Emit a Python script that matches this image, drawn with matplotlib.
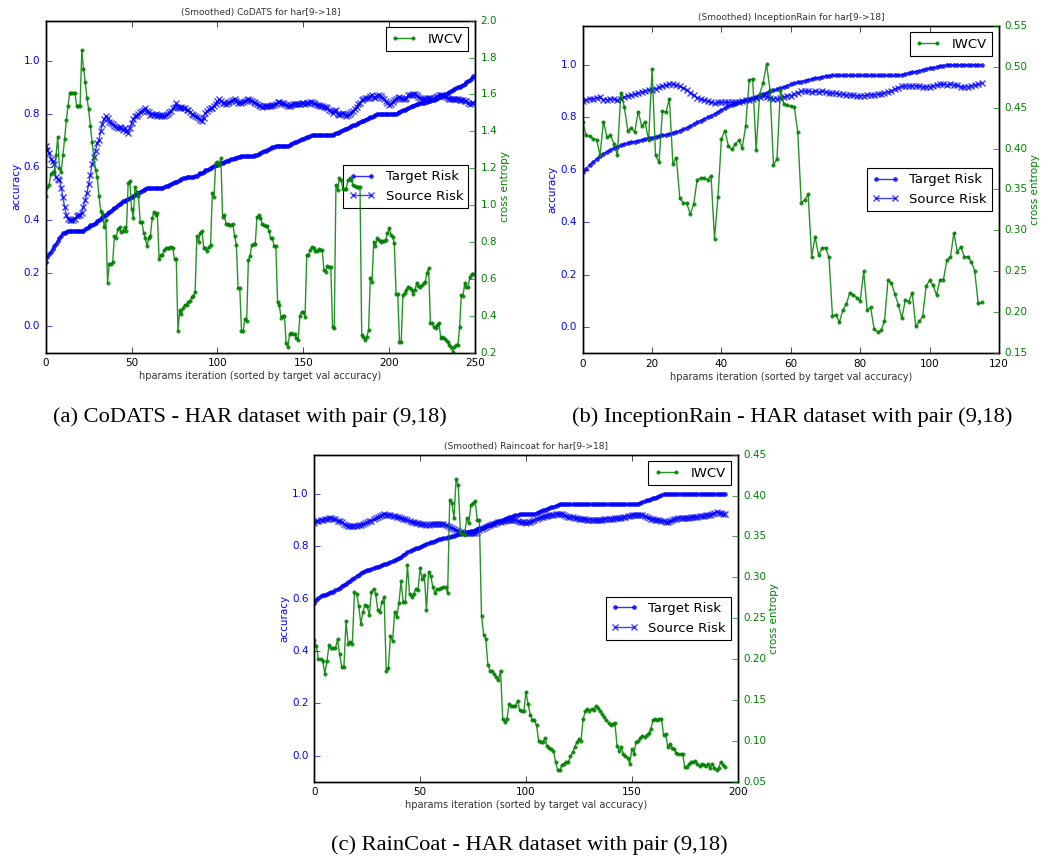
import numpy as np
import matplotlib
matplotlib.use('Agg')
import matplotlib.pyplot as plt

plt.style.use('classic')

# ---- (a) CoDATS: values ----
codats_target = [
    0.24, 0.26, 0.27, 0.28, 0.29, 0.30, 0.31, 0.32, 0.33, 0.34,
    0.35, 0.35, 0.355, 0.36, 0.36, 0.36, 0.36, 0.36, 0.36, 0.36,
    0.36, 0.36, 0.36, 0.365, 0.37, 0.375, 0.38, 0.38, 0.385, 0.39,
    0.395, 0.40, 0.405, 0.41, 0.415, 0.42, 0.425, 0.43, 0.435, 0.44,
    0.445, 0.45, 0.455, 0.46, 0.465, 0.47, 0.473, 0.476, 0.48, 0.483,
    0.487, 0.49, 0.495, 0.50, 0.503, 0.506, 0.51, 0.513, 0.516, 0.519,
    0.52, 0.52, 0.52, 0.52, 0.52, 0.52, 0.52, 0.52, 0.52, 0.523,
    0.526, 0.529, 0.532, 0.535, 0.538, 0.541, 0.544, 0.547, 0.55, 0.553,
    0.556, 0.558, 0.56, 0.56, 0.56, 0.56, 0.56, 0.564, 0.567, 0.571,
    0.575, 0.578, 0.582, 0.586, 0.589, 0.593, 0.596, 0.60, 0.603, 0.605,
    0.608, 0.61, 0.613, 0.615, 0.618, 0.62, 0.623, 0.625, 0.628, 0.63,
    0.632, 0.634, 0.636, 0.638, 0.64, 0.64, 0.64, 0.64, 0.64, 0.64,
    0.64, 0.64, 0.643, 0.646, 0.649, 0.652, 0.655, 0.658, 0.661, 0.664,
    0.667, 0.67, 0.673, 0.676, 0.678, 0.68, 0.68, 0.68, 0.68, 0.68,
    0.68, 0.68, 0.683, 0.686, 0.689, 0.692, 0.695, 0.698, 0.70, 0.703,
    0.706, 0.709, 0.712, 0.714, 0.716, 0.718, 0.72, 0.72, 0.72, 0.72,
    0.72, 0.72, 0.72, 0.72, 0.72, 0.72, 0.72, 0.72, 0.723, 0.726,
    0.729, 0.732, 0.735, 0.738, 0.741, 0.744, 0.747, 0.75, 0.753, 0.756,
    0.759, 0.762, 0.765, 0.768, 0.771, 0.774, 0.777, 0.78, 0.783, 0.786,
    0.789, 0.792, 0.795, 0.797, 0.799, 0.80, 0.80, 0.80, 0.80, 0.80,
    0.80, 0.80, 0.80, 0.80, 0.80, 0.803, 0.806, 0.809, 0.812, 0.815,
    0.818, 0.821, 0.824, 0.827, 0.83, 0.833, 0.836, 0.838, 0.84, 0.841,
    0.842, 0.844, 0.845, 0.846, 0.848, 0.85, 0.852, 0.855, 0.858, 0.861,
    0.864, 0.867, 0.87, 0.873, 0.877, 0.881, 0.885, 0.889, 0.893, 0.896,
    0.899, 0.902, 0.905, 0.909, 0.913, 0.918, 0.923, 0.928, 0.934, 0.94,
]
codats_source = [
    0.68, 0.665, 0.65, 0.63, 0.62, 0.61, 0.56, 0.555, 0.55, 0.52,
    0.485, 0.45, 0.42, 0.405, 0.40, 0.40, 0.40, 0.405, 0.415, 0.42,
    0.42, 0.425, 0.45, 0.475, 0.50, 0.535, 0.57, 0.61, 0.635, 0.66,
    0.69, 0.70, 0.735, 0.76, 0.78, 0.79, 0.785, 0.77, 0.765, 0.76,
    0.755, 0.75, 0.745, 0.75, 0.745, 0.74, 0.745, 0.735, 0.728, 0.745,
    0.765, 0.78, 0.79, 0.79, 0.80, 0.805, 0.81, 0.815, 0.82, 0.81,
    0.805, 0.795, 0.80, 0.795, 0.80, 0.79, 0.795, 0.79, 0.795, 0.79,
    0.795, 0.80, 0.805, 0.81, 0.82, 0.825, 0.84, 0.825, 0.82, 0.825,
    0.82, 0.823, 0.815, 0.813, 0.805, 0.797, 0.795, 0.79, 0.788, 0.785,
    0.778, 0.772, 0.785, 0.804, 0.81, 0.816, 0.82, 0.823, 0.83, 0.838,
    0.846, 0.854, 0.848, 0.841, 0.84, 0.838, 0.84, 0.845, 0.848, 0.85,
    0.854, 0.848, 0.841, 0.843, 0.841, 0.845, 0.848, 0.852, 0.857, 0.852,
    0.848, 0.845, 0.841, 0.836, 0.832, 0.828, 0.825, 0.827, 0.828, 0.828,
    0.828, 0.83, 0.832, 0.832, 0.838, 0.843, 0.845, 0.842, 0.84, 0.835,
    0.832, 0.828, 0.83, 0.832, 0.835, 0.838, 0.837, 0.835, 0.838, 0.841,
    0.84, 0.838, 0.84, 0.841, 0.843, 0.845, 0.84, 0.835, 0.834, 0.832,
    0.83, 0.828, 0.826, 0.825, 0.822, 0.815, 0.81, 0.804, 0.81, 0.813,
    0.80, 0.795, 0.80, 0.804, 0.797, 0.791, 0.795, 0.797, 0.805, 0.81,
    0.818, 0.825, 0.835, 0.841, 0.85, 0.854, 0.86, 0.858, 0.86, 0.865,
    0.869, 0.862, 0.86, 0.868, 0.872, 0.866, 0.86, 0.855, 0.848, 0.84,
    0.832, 0.838, 0.845, 0.85, 0.857, 0.86, 0.862, 0.858, 0.854, 0.857,
    0.86, 0.869, 0.87, 0.872, 0.874, 0.875, 0.87, 0.862, 0.858, 0.854,
    0.855, 0.857, 0.86, 0.86, 0.858, 0.856, 0.858, 0.862, 0.866, 0.869,
    0.87, 0.872, 0.866, 0.862, 0.86, 0.857, 0.857, 0.856, 0.855, 0.854,
    0.854, 0.852, 0.85, 0.85, 0.849, 0.848, 0.84, 0.836, 0.84, 0.841,
]
codats_iwcv = [
    1.05, 1.10, 1.11, 1.17, 1.18, 1.18, 1.27, 1.37, 1.20, 1.18,
    1.27, 1.36, 1.46, 1.54, 1.61, 1.61, 1.61, 1.61, 1.54, 1.54,
    1.54, 1.84, 1.74, 1.67, 1.58, 1.52, 1.43, 1.34, 1.26, 1.19,
    1.15, 1.05, 0.97, 0.96, 0.88, 0.92, 0.58, 0.68, 0.68, 0.69,
    0.83, 0.82, 0.87, 0.88, 0.855, 0.86, 0.88, 0.86, 1.12, 1.13,
    0.98, 0.93, 1.10, 1.07, 1.05, 0.91, 0.91, 0.85, 0.82, 0.78,
    0.82, 0.835, 0.93, 0.965, 0.945, 0.955, 0.71, 0.73, 0.73, 0.755,
    0.765, 0.765, 0.77, 0.775, 0.765, 0.71, 0.71, 0.32, 0.43, 0.41,
    0.44, 0.46, 0.46, 0.475, 0.48, 0.50, 0.51, 0.53, 0.83, 0.80,
    0.85, 0.86, 0.77, 0.765, 0.75, 0.775, 0.785, 1.065, 1.045, 1.23,
    1.235, 1.22, 1.255, 0.935, 0.945, 0.90, 0.895, 0.89, 0.89, 0.895,
    0.83, 0.785, 0.55, 0.55, 0.315, 0.32, 0.385, 0.37, 0.70, 0.725,
    0.785, 0.79, 0.79, 0.935, 0.945, 0.93, 0.90, 0.89, 0.885, 0.885,
    0.86, 0.82, 0.82, 0.78, 0.78, 0.475, 0.46, 0.39, 0.40, 0.40,
    0.25, 0.23, 0.30, 0.305, 0.30, 0.30, 0.28, 0.27, 0.40, 0.42,
    0.42, 0.395, 0.73, 0.73, 0.757, 0.775, 0.77, 0.75, 0.75, 0.76,
    0.757, 0.757, 0.648, 0.64, 0.67, 0.667, 0.667, 0.34, 0.332, 1.11,
    1.08, 1.145, 1.136, 1.09, 1.085, 1.09, 1.136, 1.145, 1.136, 1.11,
    1.105, 1.10, 1.10, 1.10, 0.296, 0.287, 0.27, 0.287, 0.323, 0.603,
    0.585, 0.80, 0.78, 0.82, 0.81, 0.80, 0.806, 0.806, 0.813, 0.847,
    0.874, 0.838, 0.829, 0.793, 0.52, 0.516, 0.26, 0.26, 0.513, 0.525,
    0.54, 0.558, 0.549, 0.54, 0.52, 0.54, 0.58, 0.562, 0.558, 0.567,
    0.576, 0.585, 0.634, 0.657, 0.363, 0.363, 0.34, 0.332, 0.35, 0.363,
    0.278, 0.283, 0.278, 0.27, 0.26, 0.24, 0.23, 0.205, 0.23, 0.24,
    0.24, 0.337, 0.513, 0.51, 0.576, 0.555, 0.558, 0.612, 0.626, 0.626,
]

# ---- (b) InceptionRain ----
incep_target = [
    0.59, 0.605, 0.618, 0.63, 0.642, 0.652, 0.661, 0.669, 0.676, 0.682,
    0.688, 0.693, 0.698, 0.702, 0.705, 0.708, 0.711, 0.714, 0.717, 0.72,
    0.722, 0.725, 0.728, 0.731, 0.734, 0.737, 0.74, 0.745, 0.75, 0.755,
    0.76, 0.767, 0.774, 0.781, 0.788, 0.794, 0.80, 0.806, 0.813, 0.82,
    0.828, 0.836, 0.842, 0.847, 0.852, 0.857, 0.861, 0.865, 0.869, 0.874,
    0.879, 0.884, 0.889, 0.894, 0.899, 0.903, 0.907, 0.911, 0.916, 0.921,
    0.926, 0.93, 0.934, 0.937, 0.94, 0.943, 0.946, 0.949, 0.952, 0.954,
    0.957, 0.959, 0.96, 0.96, 0.96, 0.96, 0.96, 0.96, 0.96, 0.96,
    0.96, 0.96, 0.96, 0.96, 0.96, 0.96, 0.96, 0.96, 0.96, 0.96,
    0.96, 0.96, 0.963, 0.966, 0.969, 0.972, 0.975, 0.978, 0.981, 0.984,
    0.987, 0.99, 0.993, 0.996, 0.998, 1.0, 1.0, 1.0, 1.0, 1.0,
    1.0, 1.0, 1.0, 1.0, 1.0, 1.0,
]
incep_source = [
    0.862, 0.866, 0.872, 0.87, 0.875, 0.876, 0.868, 0.868, 0.87, 0.87,
    0.866, 0.872, 0.878, 0.882, 0.884, 0.888, 0.893, 0.896, 0.90, 0.904,
    0.906, 0.91, 0.915, 0.918, 0.922, 0.926, 0.927, 0.924, 0.918, 0.912,
    0.906, 0.895, 0.884, 0.875, 0.87, 0.866, 0.862, 0.858, 0.855, 0.857,
    0.857, 0.858, 0.857, 0.858, 0.859, 0.86, 0.862, 0.865, 0.867, 0.87,
    0.874, 0.878, 0.882, 0.879, 0.874, 0.872, 0.872, 0.874, 0.879, 0.882,
    0.883, 0.89, 0.895, 0.90, 0.90, 0.899, 0.898, 0.899, 0.898, 0.899,
    0.897, 0.894, 0.892, 0.892, 0.89, 0.888, 0.886, 0.885, 0.884, 0.882,
    0.882, 0.883, 0.885, 0.886, 0.887, 0.888, 0.89, 0.894, 0.897, 0.902,
    0.908, 0.914, 0.918, 0.92, 0.92, 0.921, 0.92, 0.918, 0.917, 0.916,
    0.917, 0.92, 0.924, 0.926, 0.926, 0.925, 0.926, 0.925, 0.922, 0.917,
    0.916, 0.917, 0.92, 0.923, 0.926, 0.93,
]
incep_iwcv = [
    0.433, 0.416, 0.415, 0.412, 0.411, 0.392, 0.433, 0.414, 0.416, 0.406,
    0.392, 0.468, 0.451, 0.422, 0.425, 0.42, 0.445, 0.428, 0.432, 0.41,
    0.497, 0.392, 0.383, 0.446, 0.444, 0.461, 0.381, 0.389, 0.339, 0.334,
    0.333, 0.32, 0.332, 0.362, 0.364, 0.364, 0.362, 0.367, 0.29, 0.341,
    0.412, 0.422, 0.403, 0.399, 0.405, 0.41, 0.401, 0.428, 0.484, 0.485,
    0.398, 0.466, 0.48, 0.503, 0.472, 0.38, 0.387, 0.472, 0.454, 0.453,
    0.452, 0.451, 0.42, 0.334, 0.337, 0.344, 0.268, 0.292, 0.27, 0.278,
    0.279, 0.267, 0.196, 0.197, 0.188, 0.203, 0.21, 0.224, 0.221, 0.218,
    0.214, 0.25, 0.203, 0.206, 0.18, 0.176, 0.178, 0.189, 0.239, 0.236,
    0.222, 0.209, 0.193, 0.215, 0.213, 0.224, 0.183, 0.189, 0.195, 0.232,
    0.239, 0.233, 0.221, 0.24, 0.24, 0.264, 0.267, 0.297, 0.274, 0.28,
    0.268, 0.268, 0.262, 0.251, 0.211, 0.212,
]

# ---- (c) RainCoat ----
rain_target = [
    0.582, 0.595, 0.602, 0.608, 0.612, 0.615, 0.618, 0.621, 0.624, 0.627,
    0.631, 0.636, 0.641, 0.647, 0.652, 0.657, 0.662, 0.668, 0.674, 0.68,
    0.686, 0.692, 0.697, 0.701, 0.705, 0.708, 0.711, 0.714, 0.717, 0.72,
    0.722, 0.725, 0.728, 0.731, 0.734, 0.737, 0.74, 0.743, 0.746, 0.75,
    0.754, 0.759, 0.765, 0.771, 0.777, 0.782, 0.786, 0.789, 0.792, 0.795,
    0.798, 0.802, 0.806, 0.81, 0.813, 0.815, 0.818, 0.821, 0.824, 0.827,
    0.829, 0.831, 0.833, 0.835, 0.837, 0.839, 0.841, 0.843, 0.845, 0.847,
    0.849, 0.851, 0.853, 0.855, 0.857, 0.859, 0.862, 0.865, 0.868, 0.871,
    0.874, 0.877, 0.88, 0.883, 0.886, 0.889, 0.892, 0.895, 0.898, 0.901,
    0.904, 0.907, 0.91, 0.913, 0.916, 0.919, 0.921, 0.922, 0.922, 0.922,
    0.922, 0.922, 0.922, 0.922, 0.925, 0.928, 0.931, 0.934, 0.937, 0.94,
    0.943, 0.946, 0.949, 0.952, 0.955, 0.958, 0.96, 0.96, 0.96, 0.96,
    0.96, 0.96, 0.96, 0.96, 0.96, 0.96, 0.96, 0.96, 0.96, 0.96,
    0.96, 0.96, 0.96, 0.96, 0.96, 0.96, 0.96, 0.96, 0.96, 0.96,
    0.96, 0.96, 0.96, 0.96, 0.96, 0.96, 0.96, 0.96, 0.96, 0.96,
    0.96, 0.96, 0.96, 0.963, 0.966, 0.969, 0.972, 0.975, 0.978, 0.981,
    0.984, 0.986, 0.989, 0.992, 0.995, 0.998, 1.0, 1.0, 1.0, 1.0,
    1.0, 1.0, 1.0, 1.0, 1.0, 1.0, 1.0, 1.0, 1.0, 1.0,
    1.0, 1.0, 1.0, 1.0, 1.0, 1.0, 1.0, 1.0, 1.0, 1.0,
    1.0, 1.0, 1.0, 1.0, 1.0,
]
rain_source = [
    0.89, 0.895, 0.898, 0.90, 0.90, 0.905, 0.904, 0.907, 0.908, 0.905,
    0.903, 0.898, 0.895, 0.893, 0.885, 0.88, 0.878, 0.877, 0.877, 0.878,
    0.878, 0.88, 0.883, 0.885, 0.888, 0.892, 0.895, 0.898, 0.903, 0.908,
    0.912, 0.917, 0.921, 0.922, 0.921, 0.92, 0.918, 0.917, 0.915, 0.912,
    0.91, 0.908, 0.906, 0.903, 0.90, 0.897, 0.894, 0.891, 0.889, 0.888,
    0.887, 0.886, 0.885, 0.883, 0.883, 0.884, 0.886, 0.887, 0.887, 0.886,
    0.887, 0.884, 0.88, 0.877, 0.872, 0.868, 0.865, 0.862, 0.858, 0.855,
    0.853, 0.851, 0.85, 0.849, 0.849, 0.849, 0.851, 0.856, 0.862, 0.866,
    0.87, 0.874, 0.878, 0.881, 0.884, 0.887, 0.889, 0.891, 0.893, 0.895,
    0.897, 0.90, 0.90, 0.90, 0.90, 0.90, 0.897, 0.893, 0.892, 0.891,
    0.89, 0.891, 0.892, 0.896, 0.90, 0.905, 0.908, 0.91, 0.912, 0.914,
    0.916, 0.918, 0.92, 0.921, 0.922, 0.923, 0.924, 0.923, 0.92, 0.916,
    0.912, 0.911, 0.91, 0.908, 0.907, 0.906, 0.905, 0.904, 0.903, 0.902,
    0.902, 0.901, 0.90, 0.90, 0.90, 0.90, 0.902, 0.903, 0.905, 0.906,
    0.906, 0.906, 0.907, 0.907, 0.907, 0.909, 0.911, 0.913, 0.915, 0.916,
    0.918, 0.92, 0.921, 0.921, 0.921, 0.918, 0.915, 0.911, 0.908, 0.906,
    0.904, 0.902, 0.90, 0.90, 0.898, 0.895, 0.893, 0.893, 0.896, 0.90,
    0.904, 0.906, 0.907, 0.907, 0.908, 0.908, 0.908, 0.909, 0.91, 0.911,
    0.911, 0.912, 0.914, 0.916, 0.917, 0.918, 0.919, 0.921, 0.924, 0.927,
    0.93, 0.928, 0.926, 0.925, 0.924,
]
rain_iwcv = [
    0.223, 0.216, 0.20, 0.20, 0.198, 0.182, 0.198, 0.217, 0.213, 0.213,
    0.213, 0.224, 0.206, 0.19, 0.19, 0.246, 0.219, 0.221, 0.219, 0.282,
    0.28, 0.265, 0.243, 0.258, 0.266, 0.265, 0.254, 0.282, 0.286, 0.28,
    0.26, 0.258, 0.27, 0.276, 0.186, 0.189, 0.228, 0.222, 0.258, 0.251,
    0.269, 0.295, 0.27, 0.27, 0.315, 0.279, 0.276, 0.28, 0.286, 0.284,
    0.311, 0.298, 0.303, 0.26, 0.306, 0.302, 0.288, 0.281, 0.286, 0.286,
    0.287, 0.288, 0.288, 0.281, 0.395, 0.391, 0.372, 0.42, 0.413, 0.356,
    0.353, 0.352, 0.372, 0.366, 0.389, 0.391, 0.393, 0.37, 0.37, 0.253,
    0.23, 0.225, 0.193, 0.186, 0.185, 0.182, 0.178, 0.174, 0.186, 0.127,
    0.123, 0.127, 0.145, 0.143, 0.143, 0.143, 0.149, 0.138, 0.136, 0.136,
    0.16, 0.145, 0.132, 0.126, 0.125, 0.119, 0.10, 0.098, 0.099, 0.103,
    0.094, 0.091, 0.09, 0.088, 0.074, 0.064, 0.064, 0.071, 0.072, 0.074,
    0.074, 0.081, 0.086, 0.092, 0.098, 0.102, 0.10, 0.127, 0.136, 0.139,
    0.137, 0.139, 0.138, 0.143, 0.14, 0.137, 0.133, 0.129, 0.125, 0.122,
    0.119, 0.121, 0.122, 0.094, 0.088, 0.092, 0.084, 0.081, 0.079, 0.072,
    0.09, 0.084, 0.099, 0.10, 0.103, 0.106, 0.105, 0.107, 0.109, 0.115,
    0.125, 0.127, 0.125, 0.127, 0.127, 0.107, 0.108, 0.092, 0.096, 0.091,
    0.09, 0.085, 0.084, 0.084, 0.084, 0.068, 0.068, 0.072, 0.074, 0.074,
    0.075, 0.072, 0.069, 0.072, 0.071, 0.069, 0.072, 0.067, 0.072, 0.067,
    0.064, 0.067, 0.074, 0.071, 0.068,
]

acc_ticks = [0.0, 0.2, 0.4, 0.6, 0.8, 1.0]


def draw_panel(fig, rect, target, source, iwcv, title, xmax, xticks, ce_lim, ce_ticks, ce_fmt):
    ax = fig.add_axes(rect)
    ax.plot(np.arange(len(target)), target, 'b.-', lw=1, ms=5.5, alpha=0.8, label='Target Risk')
    ax.plot(np.arange(len(source)), source, 'bx-', lw=1, ms=4.2, mew=1.0, alpha=0.75, label='Source Risk')
    ax.set_xlim(0, xmax)
    ax.set_ylim(-0.1, 1.15)
    ax.set_xticks(xticks)
    ax.set_yticks(acc_ticks)
    ax.set_yticklabels(['%.1f' % v for v in acc_ticks])
    ax.tick_params(axis='y', colors='b', labelsize=7.5)
    ax.tick_params(axis='x', labelsize=7.5)
    ax.tick_params(axis='y', right=False)
    ax.set_ylabel('accuracy', color='b', fontsize=7.5, labelpad=2)
    ax.set_xlabel('hparams iteration (sorted by target val accuracy)', fontsize=7, labelpad=2, color='#333333')
    ax.set_title(title, fontsize=6.5, pad=4, color='#333333')
    leg = ax.legend(loc='center right', fontsize=9.5, numpoints=2, borderaxespad=0.5)
    leg.get_frame().set_linewidth(0.8)

    ax2 = ax.twinx()
    ax2.plot(np.arange(len(iwcv)), iwcv, 'g.-', lw=1, ms=4.8, alpha=0.85, label='IWCV')
    ax2.set_xlim(0, xmax)
    ax2.set_ylim(*ce_lim)
    ax2.set_yticks(ce_ticks)
    ax2.set_yticklabels([ce_fmt % v for v in ce_ticks])
    ax2.tick_params(axis='y', colors='g', labelsize=7.5)
    ax2.set_ylabel('cross entropy', color='g', fontsize=7.5, labelpad=2)
    leg2 = ax2.legend(loc='upper right', fontsize=9.5, numpoints=2, borderaxespad=0.5)
    leg2.get_frame().set_linewidth(0.8)
    return ax, ax2


fig = plt.figure(figsize=(10.51, 8.56), dpi=100, facecolor='white')

draw_panel(fig, [0.0435, 0.588, 0.4085, 0.3878], codats_target, codats_source, codats_iwcv,
           '(Smoothed) CoDATS for har[9->18]', 250, [0, 50, 100, 150, 200, 250],
           (0.2, 2.0), [0.2, 0.4, 0.6, 0.8, 1.0, 1.2, 1.4, 1.6, 1.8, 2.0], '%.1f')
draw_panel(fig, [0.5544, 0.5873, 0.3961, 0.3827], incep_target, incep_source, incep_iwcv,
           '(Smoothed) InceptionRain for har[9->18]', 120, [0, 20, 40, 60, 80, 100, 120],
           (0.15, 0.55), [0.15, 0.20, 0.25, 0.30, 0.35, 0.40, 0.45, 0.50, 0.55], '%.2f')
draw_panel(fig, [0.299, 0.0868, 0.4029, 0.382], rain_target, rain_source, rain_iwcv,
           '(Smoothed) Raincoat for har[9->18]', 200, [0, 50, 100, 150, 200],
           (0.05, 0.45), [0.05, 0.10, 0.15, 0.20, 0.25, 0.30, 0.35, 0.40, 0.45], '%.2f')

cap_font = dict(family='Liberation Serif', fontsize=16.2, ha='center', va='center')
fig.text(249.5 / 1051, 1 - 417 / 856, '(a) CoDATS - HAR dataset with pair (9,18)', **cap_font)
fig.text(792 / 1051, 1 - 417 / 856, '(b) InceptionRain - HAR dataset with pair (9,18)', **cap_font)
fig.text(529.7 / 1051, 1 - 845 / 856, '(c) RainCoat - HAR dataset with pair (9,18)', **cap_font)

fig.savefig('out.png', dpi=100, facecolor='white')
